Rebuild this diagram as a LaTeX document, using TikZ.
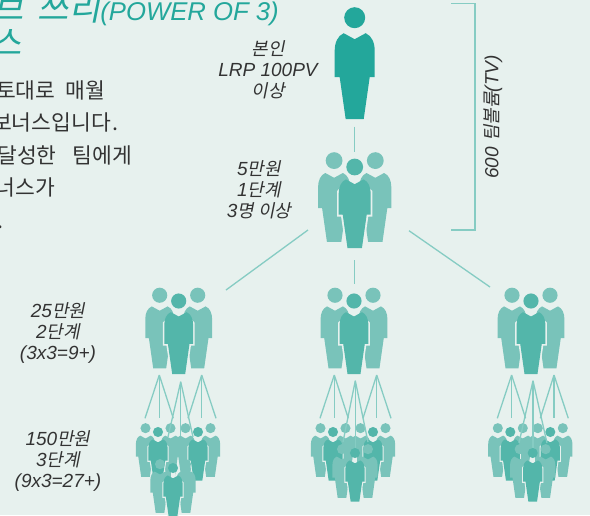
\documentclass[tikz,border=0pt]{standalone}
\usepackage{fontspec}
\setmainfont{Liberation Sans}
\newfontfamily\krit[FakeSlant=0.2]{Noto Sans CJK KR}
\newfontfamily\kr{Noto Sans CJK KR}
\newfontfamily\latit{Liberation Sans Italic}
\definecolor{bgc}{HTML}{E7F1EE}
\definecolor{teal1}{HTML}{23A79B}
\definecolor{teal2}{HTML}{53B6AA}
\definecolor{teal3}{HTML}{79C3BA}
\definecolor{linec}{HTML}{86CCC3}
\definecolor{inkc}{HTML}{333333}
\newcommand{\lt}[1]{{\latit\fontsize{19}{20.8}\selectfont #1}}
\newcommand{\figbody}[1]{%
  \fill[fill=#1] (0,0) circle (10.5);
  \fill[fill=#1] (0,21.5) -- (-11,15.5) .. controls (-17,18) and (-20,25) .. (-20,33)
      -- (-20,59.5) -- (-15,59.5) -- (-9,101.5) -- (9,101.5) -- (15,59.5) -- (20,59.5) -- (20,33)
      .. controls (20,25) and (17,18) .. (11,15.5) -- cycle;
}
\newcommand{\bodyhalo}{%
  \fill[bgc] (0,24.5) -- (-11,18) -- (-22,30) -- (-22,62) -- (-17,62) -- (-11,103) -- (11,103) -- (17,62) -- (22,62) -- (22,30) -- (11,18) -- cycle;
  \fill[bgc] (-5,8) rectangle (5,22);
}
\tikzset{
  x=1pt,y=-1pt,
  personpic/.pic={\figbody{#1}},
  halopic/.pic={\fill[bgc] (0,0) circle (13); \bodyhalo \figbody{#1}},
  smallpic/.pic={\bodyhalo \figbody{#1}},
  thin line/.style={draw=linec,line width=1.3pt},
  brk/.style={draw=linec,line width=1.5pt},
  lab/.style={font=\fontsize{18}{20.8}\selectfont,text=inkc,align=center,inner sep=0pt},
  bodytxt/.style={font=\kr\fontsize{21.5}{21.5}\selectfont,text=inkc,anchor=base east,inner sep=0pt},
  titletxt/.style={text=teal1,anchor=base east,inner sep=0pt},
}
\newcommand{\trio}[7]{% cx, sideoffset, headcy, scale, sidecol, centrecol, centre pic
  \pic[scale=#4,transform shape] at ({#1-#2},{#3-8*#4}) {personpic=#5};
  \pic[scale=#4,transform shape] at ({#1+#2},{#3-8*#4}) {personpic=#5};
  \pic[scale=#4,transform shape] at ({#1},{#3}) {#7=#6};
}
\begin{document}
\begin{tikzpicture}
\path[use as bounding box,fill=bgc] (0,0) rectangle (590,515);
\clip (0,0) rectangle (590,515);

% title
\node[titletxt] (t1) at (279,20.5) {\krit\fontsize{34}{34}\selectfont 브\hspace{6pt} 쓰리\latit\fontsize{25.7}{27}\selectfont(POWER OF 3)};
\node[titletxt] (t2) at (22,55) {\krit\fontsize{34}{34}\selectfont 스};
% body text
\node[bodytxt] (b1) at (105,98) {토대로\hspace{5pt} 매월};
\node[bodytxt] (b2) at (119,130) {보너스입니다\hspace{2pt}.};
\node[bodytxt] (b3) at (132,163) {달성한\hspace{11pt} 팀에게};
\node[bodytxt] (b4) at (55,195) {너스가};
\node[bodytxt] (b5) at (4,228) {.};

% top person
\pic at (354.7,17.7) {personpic=teal1};
\coordinate (c1a) at (354.7,126.7); \coordinate (c1b) at (354.7,151.7);
\draw[thin line] (c1a) -- (c1b);
% level 1
\trio{354.7}{20.6}{167}{0.8}{teal3}{teal2}{halopic}
% connectors
\coordinate (c2a) at (354.7,260); \coordinate (c2b) at (354.7,284);
\coordinate (c3a) at (308,230); \coordinate (c3b) at (226,290);
\coordinate (c4a) at (409,230.7); \coordinate (c4b) at (490,287);
\draw[thin line] (c2a) -- (c2b);
\draw[thin line] (c3a) -- (c3b);
\draw[thin line] (c4a) -- (c4b);
% bracket
\coordinate (k1) at (451,3.7); \coordinate (k2) at (475,3.7); \coordinate (k3) at (475,230); \coordinate (k4) at (451,230);
\draw[brk] (k1) -- (k2) -- (k3) -- (k4);

% level 2
\trio{178.7}{19}{301}{0.72}{teal3}{teal2}{halopic}
\trio{354}{19}{301}{0.72}{teal3}{teal2}{halopic}
\trio{531}{19}{301}{0.72}{teal3}{teal2}{halopic}

% level 3
\foreach \ox/\bx/\by/\apx/\apy/\lx/\ly/\my/\rx in {0/173/468/180.7/381.7/168/437/436/193,175/355/453/355.3/380.7/343/442/448/368,352.3/532.7/453/533/380.7/519/443/448/547}{
  \begin{scope}[thin line]
    \foreach \a/\l/\m/\r in {159.3/145/159.3/173.3,201.7/188/201.7/216}{
      \draw (\a+\ox,375) -- (\l+\ox,418.3);
      \draw (\a+\ox,375) -- (\m+\ox,417.7);
      \draw (\a+\ox,375) -- (\r+\ox,418.3);
    }
  \end{scope}
  \trio{158+\ox}{12.5}{432}{0.48}{teal3}{teal2}{smallpic}
  \trio{198+\ox}{12.5}{432}{0.48}{teal3}{teal2}{smallpic}
  \begin{scope}[thin line]
    \draw (\apx,\apy) -- (\lx,\ly);
    \draw (\apx,\apy) -- (\apx,\my);
    \draw (\apx,\apy) -- (\rx,\ly);
  \end{scope}
  \trio{\bx}{13}{\by}{0.48}{teal3}{teal2}{smallpic}
}

% labels
\node[lab] (l1) at (268,70) {\krit 본인\\\lt{LRP 100PV}\\\krit 이상};
\node[lab] (l2) at (259,190) {\lt{5}\krit 만원\\\lt{1}\krit 단계\\\lt{3}\krit 명 이상};
\node[lab] (l3) at (58,333) {\lt{25}\krit 만원\\\lt{2}\krit 단계\\\lt{(3x3=9+)}};
\node[lab] (l4) at (58,461) {\lt{150}\krit 만원\\\lt{3}\krit 단계\\\lt{(9x3=27+)}};
\node[lab,rotate=90] (l5) at (493,117) {\lt{600} \krit 팀볼륨\lt{(TV)}};
\end{tikzpicture}
\end{document}
